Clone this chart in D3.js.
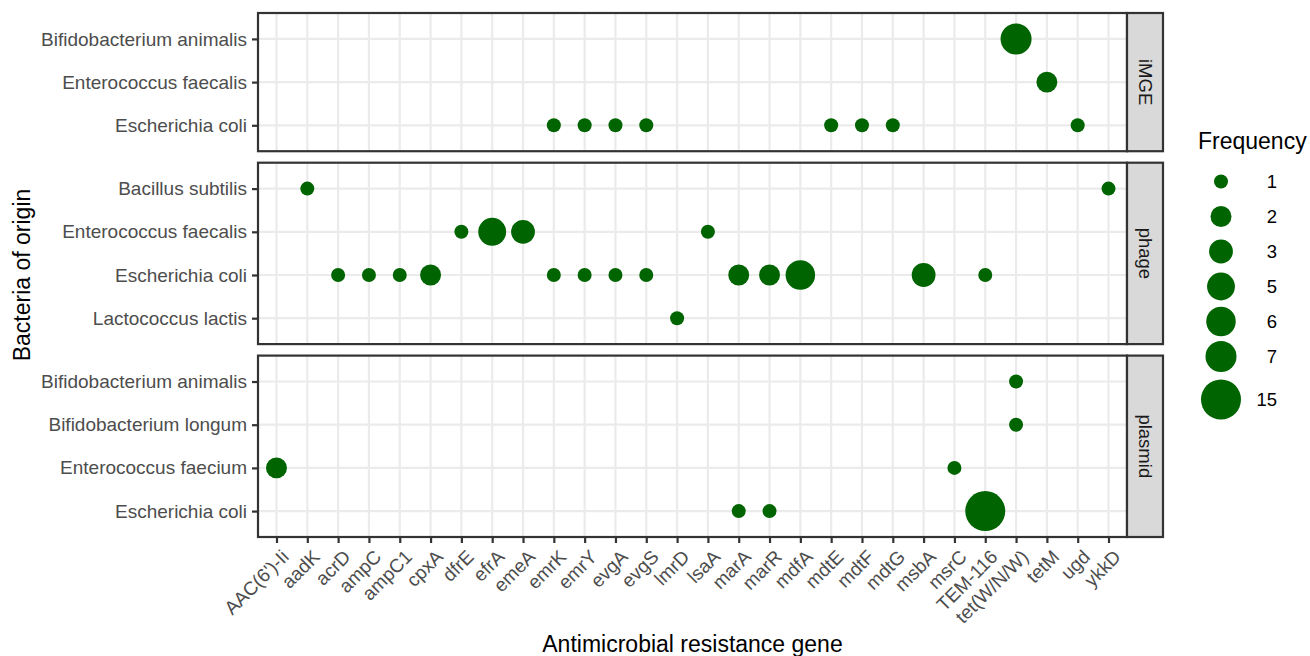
<!DOCTYPE html>
<html>
<head>
<meta charset="utf-8">
<script src="https://cdn.jsdelivr.net/npm/d3@7"></script>
<style>
  body { margin: 0; background: #fff; }
  svg text { font-family: "Liberation Sans", Arial, sans-serif; }
</style>
</head>
<body>
<div id="chart"></div>
<script>
// genes on the x axis
const genes = ["AAC(6')-Ii", "aadK", "acrD", "ampC", "ampC1", "cpxA", "dfrE", "efrA", "emeA",
	"emrK", "emrY", "evgA", "evgS", "lmrD", "lsaA", "marA", "marR", "mdfA", "mdtE", "mdtF",
	"mdtG", "msbA", "msrC", "TEM-116", "tet(W/N/W)", "tetM", "ugd", "ykkD"];

const facets = ["iMGE", "phage", "plasmid"];

const imgeBacteria = ["Bifidobacterium animalis", "Enterococcus faecalis", "Escherichia coli"];
const phageBacteria = ["Bacillus subtilis", "Enterococcus faecalis", "Escherichia coli", "Lactococcus lactis"];
const plasmidBacteria = ["Bifidobacterium animalis", "Bifidobacterium longum", "Enterococcus faecium", "Escherichia coli"];

// [bacteria, gene, frequency]
const imgeRecords = [
	["Bifidobacterium animalis", "tet(W/N/W)", 7],
	["Enterococcus faecalis", "tetM", 2],
	["Escherichia coli", "emrK", 1],
	["Escherichia coli", "emrY", 1],
	["Escherichia coli", "evgA", 1],
	["Escherichia coli", "evgS", 1],
	["Escherichia coli", "mdtE", 1],
	["Escherichia coli", "mdtF", 1],
	["Escherichia coli", "mdtG", 1],
	["Escherichia coli", "ugd", 1]
];
const phageRecords = [
	["Bacillus subtilis", "aadK", 1],
	["Bacillus subtilis", "ykkD", 1],
	["Enterococcus faecalis", "dfrE", 1],
	["Enterococcus faecalis", "efrA", 5],
	["Enterococcus faecalis", "emeA", 3],
	["Enterococcus faecalis", "lsaA", 1],
	["Escherichia coli", "acrD", 1],
	["Escherichia coli", "ampC", 1],
	["Escherichia coli", "ampC1", 1],
	["Escherichia coli", "cpxA", 2],
	["Escherichia coli", "emrK", 1],
	["Escherichia coli", "emrY", 1],
	["Escherichia coli", "evgA", 1],
	["Escherichia coli", "evgS", 1],
	["Escherichia coli", "marA", 2],
	["Escherichia coli", "marR", 2],
	["Escherichia coli", "mdfA", 6],
	["Escherichia coli", "msbA", 3],
	["Escherichia coli", "TEM-116", 1],
	["Lactococcus lactis", "lmrD", 1]
];
const plasmidRecords = [
	["Bifidobacterium animalis", "tet(W/N/W)", 1],
	["Bifidobacterium longum", "tet(W/N/W)", 1],
	["Enterococcus faecium", "AAC(6')-Ii", 2],
	["Enterococcus faecium", "msrC", 1],
	["Escherichia coli", "marA", 1],
	["Escherichia coli", "marR", 1],
	["Escherichia coli", "TEM-116", 15]
];

const legendBreaks = [1, 2, 3, 5, 6, 7, 15];

let width = 1310;
let height = 656;
let margin = { top: 13, bottom: 119, left: 258, right: 183 };
let stripW = 36;
let panelGap = 11.5;
let green = "#006400";
let grid = "#EBEBEB";
let dark = "#333333";

let panels = [
	{ name: facets[0], rows: imgeBacteria, records: imgeRecords },
	{ name: facets[1], rows: phageBacteria, records: phageRecords },
	{ name: facets[2], rows: plasmidBacteria, records: plasmidRecords }
];

let svg = d3.select('#chart')
	.append('svg')
	.attr('width', width)
	.attr('height', height);

let x0 = margin.left, x1 = width - margin.right;
let xScale = d3.scalePoint()
	.domain(genes)
	.range([x0, x1])
	.padding(0.6);

// free space: panel height proportional to number of rows
let totalH = height - margin.top - margin.bottom - panelGap * (panels.length - 1);
let units = d3.sum(panels, p => p.rows.length - 1 + 1.2);
let unit = totalH / units;

let allFreq = panels.flatMap(p => p.records.map(r => r[2]));
let fMin = d3.min(allFreq), fMax = d3.max(allFreq);
let rScale = d3.scaleSqrt().domain([0, fMax - fMin]).range([7, 20]);
let radius = v => rScale(v - fMin);

let yPos = margin.top;
panels.forEach(p => {
	let h = (p.rows.length - 1 + 1.2) * unit;
	let yScale = d3.scalePoint().domain(p.rows).range([yPos, yPos + h]).padding(0.6);
	let g = svg.append('g');

	// gridlines
	g.selectAll('.vg').data(genes).enter().append('line')
		.attr('x1', d => xScale(d)).attr('x2', d => xScale(d))
		.attr('y1', yPos).attr('y2', yPos + h)
		.attr('stroke', grid).attr('stroke-width', 2.2);
	g.selectAll('.hg').data(p.rows).enter().append('line')
		.attr('x1', x0).attr('x2', x1)
		.attr('y1', d => yScale(d)).attr('y2', d => yScale(d))
		.attr('stroke', grid).attr('stroke-width', 2.2);

	// points
	g.selectAll('circle').data(p.records).enter().append('circle')
		.attr('cx', d => xScale(d[1]))
		.attr('cy', d => yScale(d[0]))
		.attr('r', d => radius(d[2]))
		.attr('fill', green);

	// border
	g.append('rect')
		.attr('x', x0).attr('y', yPos).attr('width', x1 - x0).attr('height', h)
		.attr('fill', 'none').attr('stroke', dark).attr('stroke-width', 2.2);

	// y axis
	let ax = g.append('g')
		.attr('transform', `translate(${x0},0)`)
		.call(d3.axisLeft(yScale).tickSize(6).tickPadding(5));
	ax.select('.domain').remove();
	ax.selectAll('.tick line').attr('stroke', dark).attr('stroke-width', 2.2);
	ax.selectAll('.tick text').attr('fill', '#4D4D4D').style('font-size', '19px')
		.style('font-family', '"Liberation Sans", Arial, sans-serif');

	// strip
	g.append('rect')
		.attr('x', x1).attr('y', yPos).attr('width', stripW).attr('height', h)
		.attr('fill', '#D9D9D9').attr('stroke', dark).attr('stroke-width', 2.2);
	g.append('text')
		.attr('transform', `translate(${x1 + stripW / 2},${yPos + h / 2}) rotate(90)`)
		.attr('text-anchor', 'middle')
		.attr('dy', '0.35em')
		.attr('fill', '#1A1A1A')
		.style('font-size', '18.5px')
		.text(p.name);

	p.yEnd = yPos + h;
	yPos += h + panelGap;
});

// x axis on bottom panel
let yBottom = panels[panels.length - 1].yEnd;
let xAx = svg.append('g')
	.attr('transform', `translate(0,${yBottom})`)
	.call(d3.axisBottom(xScale).tickSize(6).tickPadding(5));
xAx.select('.domain').remove();
xAx.selectAll('.tick line').attr('stroke', dark).attr('stroke-width', 2.2);
xAx.selectAll('.tick text')
	.attr('fill', '#4D4D4D')
	.style('font-size', '19px')
	.style('font-family', '"Liberation Sans", Arial, sans-serif')
	.attr('text-anchor', 'end')
	.attr('x', 0).attr('y', 0).attr('dy', '0.6em')
	.attr('transform', 'translate(5,13) rotate(-45)');

// axis titles
svg.append('text')
	.attr('x', (x0 + x1) / 2)
	.attr('y', 652)
	.attr('text-anchor', 'middle')
	.style('font-size', '23px')
	.text('Antimicrobial resistance gene');

svg.append('text')
	.attr('transform', `translate(30,${(margin.top + yBottom) / 2}) rotate(-90)`)
	.attr('text-anchor', 'middle')
	.style('font-size', '23px')
	.text('Bacteria of origin');

// legend
let leg = svg.append('g');
leg.append('text')
	.attr('x', 1198).attr('y', 149)
	.style('font-size', '23px')
	.text('Frequency');
let ky = 164;
legendBreaks.forEach(v => {
	let r = radius(v);
	let kh = Math.max(35, 4 * r - 29);
	let cy = ky + kh / 2;
	leg.append('circle').attr('cx', 1221).attr('cy', cy).attr('r', r).attr('fill', green);
	leg.append('text').attr('x', 1277).attr('y', cy).attr('dy', '0.35em')
		.attr('text-anchor', 'end')
		.style('font-size', '18.5px')
		.text(v);
	ky += kh;
});
</script>
</body>
</html>
